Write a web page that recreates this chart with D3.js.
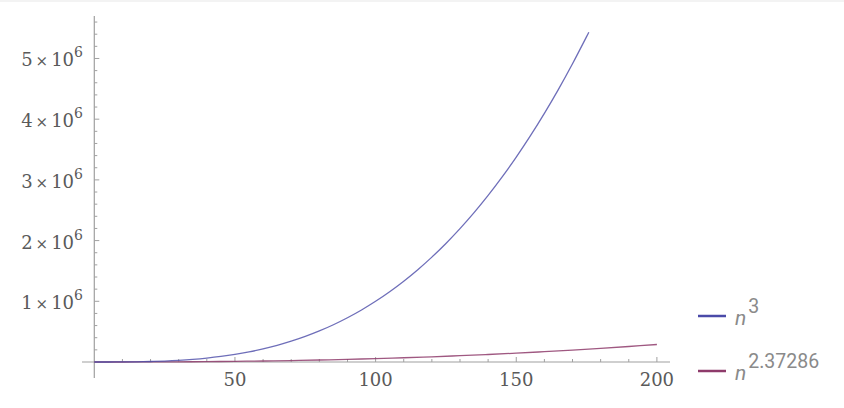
<!DOCTYPE html>
<html>
<head>
<meta charset="utf-8">
<script src="https://cdn.jsdelivr.net/npm/d3@7"></script>
<style>
  body { margin: 0; background: #fff; }
  svg { display: block; }
</style>
</head>
<body>
<svg id="chart" width="844" height="408"></svg>
<script>
// values
var cubeN = [0, 5, 10, 15, 20, 25, 30, 35, 40, 45, 50, 55, 60, 65, 70, 75, 80, 85, 90,
  95, 100, 105, 110, 115, 120, 125, 130, 135, 140, 145, 150, 155, 160, 165, 170, 175, 175.8];
var cubeVals = [0, 125, 1000, 3375, 8000, 15625, 27000, 42875, 64000, 91125, 125000,
  166375, 216000, 274625, 343000, 421875, 512000, 614125, 729000, 857375, 1000000,
  1157625, 1331000, 1520875, 1728000, 1953125, 2197000, 2460375, 2744000, 3048625,
  3375000, 3723875, 4096000, 4492125, 4913000, 5359375, 5433000];

var omegaN = [0, 10, 20, 30, 40, 50, 60, 70, 80, 90, 100, 110, 120, 130, 140, 150,
  160, 170, 180, 190, 200];
var omegaVals = [0, 236, 1223, 3198, 6333, 10748, 16566, 23878, 32805, 43330, 55680,
  69790, 85812, 103800, 123690, 145600, 169930, 196000, 224450, 255400, 288420];

var xTicks = [50, 100, 150, 200];
var yTicks = [1, 2, 3, 4, 5];   // times 10^6
var seriesNames = ["3", "2.37286"];
var seriesColors = ["#4a4aa8", "#8e3b6b"];

var svg = d3.select("#chart");

// thin grey strip at the very top
svg.append("rect").attr("x", 0).attr("y", 0).attr("width", 844).attr("height", 2)
  .attr("fill", "#f3f3f3");

var x = d3.scaleLinear().domain([0, 200]).range([94.3, 656.9]);
var y = d3.scaleLinear().domain([0, 5400000]).range([362, 34.2]);

var axisColor = "#a0a0a0";
var labelColor = "#5a5a5a";
var serif = "'DejaVu Serif', 'Liberation Serif', serif";
var g = svg.append("g");

// axis lines
g.append("line").attr("x1", 82).attr("x2", 670).attr("y1", y(0)).attr("y2", y(0))
  .attr("stroke", axisColor).attr("stroke-width", 1.2);
g.append("line").attr("x1", x(0)).attr("x2", x(0)).attr("y1", 16).attr("y2", 378)
  .attr("stroke", axisColor).attr("stroke-width", 1.2);

// x ticks
d3.range(10, 201, 10).forEach(function(v) {
  var major = v % 50 == 0;
  g.append("line").attr("x1", x(v)).attr("x2", x(v))
    .attr("y1", y(0)).attr("y2", y(0) - (major ? 5 : 3))
    .attr("stroke", axisColor).attr("stroke-width", 1);
});
// y ticks
d3.range(200000, 5700001, 200000).forEach(function(v) {
  var major = Math.round(v / 200000) % 5 == 0;
  g.append("line").attr("x1", x(0)).attr("x2", x(0) + (major ? 5 : 3))
    .attr("y1", y(v)).attr("y2", y(v))
    .attr("stroke", axisColor).attr("stroke-width", 1);
});

// x labels
g.selectAll(".xlab").data(xTicks).enter().append("text")
  .attr("class", "xlab")
  .attr("x", function(d) { return x(d); })
  .attr("y", 386)
  .attr("text-anchor", "middle")
  .attr("font-family", serif)
  .attr("font-size", 18)
  .attr("fill", labelColor)
  .text(function(d) { return d; });

// y labels: k×10^6
yTicks.forEach(function(k) {
  var t = g.append("text")
    .attr("x", 83).attr("y", y(k * 1e6) + 8)
    .attr("text-anchor", "end")
    .attr("font-family", serif)
    .attr("font-size", 18)
    .attr("fill", labelColor);
  t.append("tspan").text(k);
  t.append("tspan").attr("dx", 3).attr("font-size", 15).text("\u00d7");
  t.append("tspan").attr("dx", 3).text("10");
  t.append("tspan").attr("dy", -9).attr("font-size", 14).text("6");
});

// curves
var line = d3.line()
  .x(function(d) { return x(d[0]); })
  .y(function(d) { return y(d[1]); })
  .curve(d3.curveCatmullRom);

var cubePts = cubeN.map(function(n, i) { return [n, cubeVals[i]]; });
var omegaPts = omegaN.map(function(n, i) { return [n, omegaVals[i]]; });

g.append("path").datum(omegaPts).attr("d", line)
  .attr("fill", "none").attr("stroke", seriesColors[1]).attr("stroke-width", 1.3)
  .attr("stroke-opacity", 0.85);
g.append("path").datum(cubePts).attr("d", line)
  .attr("fill", "none").attr("stroke", seriesColors[0]).attr("stroke-width", 1.3)
  .attr("stroke-opacity", 0.8);

// legend
var legY = [316, 371];
seriesNames.forEach(function(name, i) {
  svg.append("line").attr("x1", 698).attr("x2", 726)
    .attr("y1", legY[i]).attr("y2", legY[i])
    .attr("stroke", seriesColors[i]).attr("stroke-width", 2.5);
  var t = svg.append("text")
    .attr("x", 735).attr("y", legY[i] + 9)
    .attr("font-family", "Roboto, 'Open Sans', sans-serif")
    .attr("font-size", 21)
    .attr("fill", "#8a8a8a");
  t.append("tspan").attr("font-style", "italic").text("n");
  t.append("tspan").attr("dx", 2).attr("dy", -12).attr("font-size", 19.5).text(name);
});
</script>
</body>
</html>
